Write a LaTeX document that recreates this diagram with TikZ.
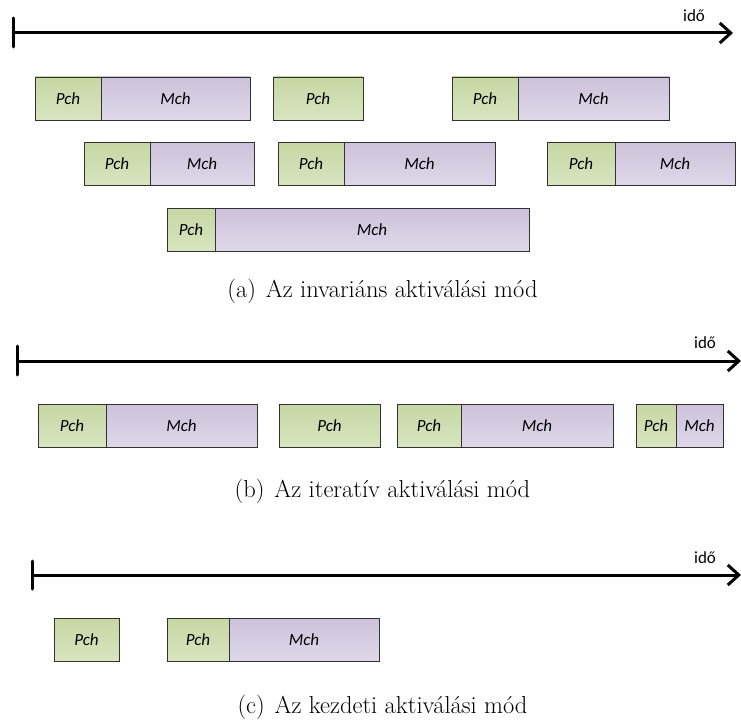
\documentclass[tikz,border=0pt]{standalone}
\usepackage{fontspec}
\newfontfamily\calibri{Carlito}
\usetikzlibrary{arrows.meta}

\definecolor{pchtop}{RGB}{198,215,164}
\definecolor{pchbot}{RGB}{216,229,192}
\definecolor{mchtop}{RGB}{204,194,218}
\definecolor{mchbot}{RGB}{223,216,233}
\definecolor{boxline}{RGB}{50,50,50}

\tikzset{
  chunk/.style={draw=boxline, line width=0.9pt, minimum height=43pt,
    inner sep=0pt, outer sep=0pt, anchor=north west,
    font=\calibri\itshape\fontsize{17}{20}\selectfont},
  prepbox/.style={chunk, top color=pchtop, bottom color=pchbot},
  mainbox/.style={chunk, top color=mchtop, bottom color=mchbot},
  timeaxis/.style={line width=3pt, -{Straight Barb[length=11pt,width=20pt,line width=3pt]}},
  axistick/.style={line width=3pt, line cap=round},
  timelabel/.style={font=\calibri\fontsize{17}{20}\selectfont},
  subcap/.style={font=\fontsize{24.5}{29}\selectfont, anchor=base},
}

% a preparation chunk alone, or a preparation chunk followed by a main chunk
\newcommand\pchonly[4]{%
  \node[prepbox, minimum width=#4pt] (#1p) at (#2,#3) {Pch};}
\newcommand\pchmch[5]{%
  \node[prepbox, minimum width=#4pt] (#1p) at (#2,#3) {Pch};
  \node[mainbox, minimum width=#5pt] (#1m) at (#1p.north east) {Mch};}
% gap between a sub-caption label and its text
\newcommand\capsep{\hspace{0.4em}}

\begin{document}
\begin{tikzpicture}[x=1pt, y=-1pt]
\useasboundingbox (0,0) rectangle (741,722);

% ---------- (a) invariant activation ----------
\coordinate (aS) at (13,33);
\coordinate (aE) at (733,33);
\coordinate (aT1) at (13,18);
\coordinate (aT2) at (13,47);
\draw[timeaxis] (aS) -- (aE);
\draw[axistick] (aT1) -- (aT2);
\node[timelabel] (aLbl) at (694,16) {idő};

\pchmch{a1}{35}{77}{66}{149}
\pchonly{a2}{273}{77}{90}
\pchmch{a3}{452}{77}{66}{151}
\pchmch{a4}{84}{142.5}{66}{104}
\pchmch{a5}{278}{142.5}{66}{151}
\pchmch{a6}{547}{142.5}{68}{120}
\pchmch{a7}{167}{208.5}{48}{314}

\node[subcap] (aCap) at (382.5,297) {(a)\capsep Az invariáns aktiválási mód};

% ---------- (b) iterative activation ----------
\coordinate (bS) at (17,361);
\coordinate (bE) at (741,361);
\coordinate (bT1) at (17,346);
\coordinate (bT2) at (17,375);
\draw[timeaxis] (bS) -- (bE);
\draw[axistick] (bT1) -- (bT2);
\node[timelabel] (bLbl) at (705,343) {idő};

\pchmch{b1}{38}{404.5}{68}{151}
\pchonly{b2}{279}{404.5}{101}
\pchmch{b3}{397}{404.5}{64}{152}
\pchmch{b4}{636}{404.5}{40}{47}

\node[subcap] (bCap) at (382.5,497) {(b)\capsep Az iteratív aktiválási mód};

% ---------- (c) initial activation ----------
\coordinate (cS) at (32,575);
\coordinate (cE) at (741,575);
\coordinate (cT1) at (32,561);
\coordinate (cT2) at (32,589);
\draw[timeaxis] (cS) -- (cE);
\draw[axistick] (cT1) -- (cT2);
\node[timelabel] (cLbl) at (705,558) {idő};

\pchonly{c1}{54}{618}{65}
\pchmch{c2}{167}{618}{62}{150}

\node[subcap] (cCap) at (382.5,713) {(c)\capsep Az kezdeti aktiválási mód};
\end{tikzpicture}
\end{document}
